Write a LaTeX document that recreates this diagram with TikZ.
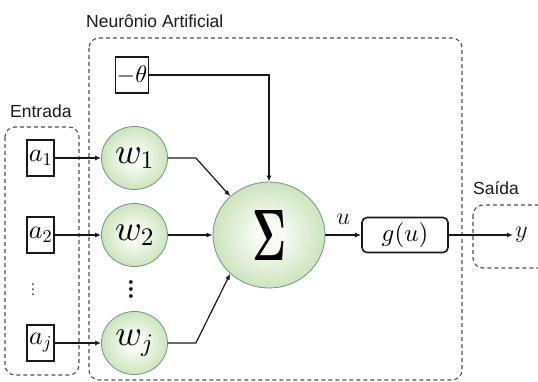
\documentclass[tikz,border=0pt]{standalone}
\usepackage[no-math]{fontspec}
\setmainfont{Liberation Sans}
\usepackage{graphicx}
\usetikzlibrary{shapes.geometric,arrows.meta}

% make the Computer Modern math fonts freely scalable
\DeclareFontShape{OML}{cmm}{m}{it}{<->cmmi10}{}
\DeclareFontShape{OT1}{cmr}{m}{n}{<->cmr10}{}
\DeclareFontShape{OT1}{cmr}{bx}{n}{<->cmbx10}{}
\DeclareFontShape{OMS}{cmsy}{m}{n}{<->cmsy10}{}

\definecolor{orbout}{RGB}{150,196,118}
\definecolor{orbin}{RGB}{247,251,244}
\definecolor{orbrim}{RGB}{105,150,135}
\definecolor{zonegray}{RGB}{80,80,80}
\definecolor{ink}{RGB}{25,25,25}

% soft green ball: light centre fading to green at the rim
\pgfdeclareradialshading{orbshade}{\pgfpoint{0bp}{0bp}}{%
  color(0bp)=(orbin); color(6bp)=(orbin); color(50bp)=(orbout); color(100bp)=(orbout)}

% vertical ellipsis: three round full stops set on one line, turned upright
\newcommand{\colofdots}[1]{\rotatebox{90}{$.\mkern#1mu.\mkern#1mu.$}}

\tikzset{
  inbox/.style={draw=ink, line width=1.6pt, minimum width=27pt, minimum height=36pt,
    inner sep=0pt, font=\fontsize{26}{26}\selectfont},
  orb/.style={ellipse, shading=orbshade, draw=orbrim, line width=0.8pt, inner sep=0pt},
  wnode/.style={orb, minimum width=66pt, minimum height=63pt, font=\fontsize{36}{36}\selectfont},
  link/.style={draw=ink, line width=1.2pt, -{Latex[length=6pt,width=5pt]}},
  zone/.style={draw=zonegray, line width=1.1pt, dash pattern=on 4pt off 3pt, rounded corners=10pt},
  caption/.style={font=\fontsize{17.5}{17.5}\selectfont, text=ink, inner sep=0pt, anchor=base west},
  mathlabel/.style={font=\fontsize{24}{24}\selectfont, text=ink},
  dotcol/.style={inner sep=0pt, text=ink}
}

\begin{document}
\begin{tikzpicture}[x=1pt, y=-1pt]
  \useasboundingbox (0,0) rectangle (538,382);
  \clip (0,0) rectangle (538,382);

  % dashed groupings
  \draw[zone] (5,127) rectangle (79,375);
  \draw[zone] (89,38) rectangle (462,380);
  \draw[zone] (473,205) rectangle (570,268);

  % group titles
  \node[caption] (lneuron) at (86,27.5) {Neurônio Artificial};
  \node[caption] (lin) at (10,118) {Entrada};
  \node[caption] (lout) at (473,195) {Saída};

  % inputs
  \node[inbox] (a1) at (40.5,158) {$a_1$};
  \node[inbox] (a2) at (40.5,235) {$a_2$};
  \node[inbox] (aj) at (40.5,343) {$a_j$};
  \node[dotcol, text=ink!70, font=\fontsize{20}{20}\selectfont] (adots) at (33,290) {\colofdots{-0.5}};

  % weights
  \node[wnode] (w1) at (134.5,158) {$w_1$};
  \node[wnode] (w2) at (134.5,235) {$w_2$};
  \node[wnode] (wj) at (134.5,343) {$w_j$};
  \node[dotcol, font=\fontsize{36}{36}\selectfont] (wdots) at (131,289) {\colofdots{-1.5}};

  % bias, summation, activation, output
  \node[inbox, minimum width=33pt, font=\fontsize{24}{24}\selectfont] (th) at (132,75) {$-\theta$};
  \node[orb, minimum width=112pt, minimum height=106pt] (sum) at (269,235)
    {\resizebox{34pt}{50pt}{$\mathbf{\Sigma}$}};
  \node[draw=ink, line width=1.6pt, rounded corners=5pt, minimum width=86pt, minimum height=35pt,
    inner sep=0pt, font=\fontsize{25}{25}\selectfont] (g) at (405,235) {$g(u)$};
  \node[mathlabel, inner sep=2pt, anchor=west] (yout) at (513,235) {$y$};

  % connections
  \draw[link] (a1) -- (w1);
  \draw[link] (a2) -- (w2);
  \draw[link] (aj) -- (wj);
  \draw[link] (th.east) -| (sum.north);
  \draw[link] (w1.east) -- ++(28,0) -- (sum.135);
  \draw[link] (w2) -- (sum);
  \draw[link] (wj.east) -- ++(28,0) -- (sum.225);
  \draw[link] (sum) -- node[mathlabel, above=10pt, inner sep=0pt] (ulab) {$u$} (g);
  \draw[link] (g) -- (yout);
\end{tikzpicture}
\end{document}
